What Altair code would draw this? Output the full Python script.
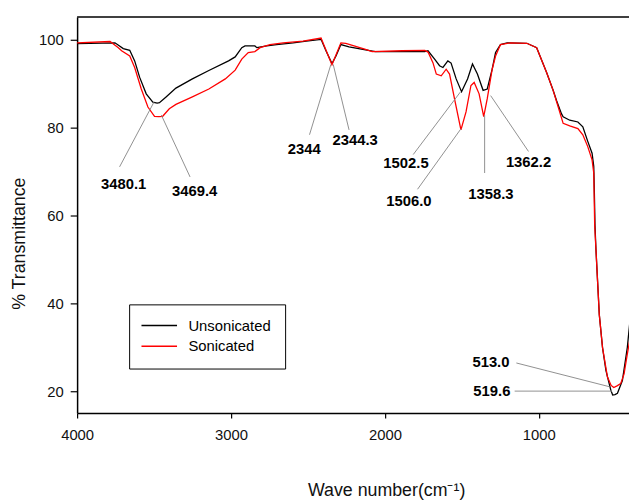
import altair as alt
import pandas as pd

# ---- data ----
series = ["Unsonicated", "Sonicated"]

wn_uns = [4000, 3754, 3700, 3658, 3626, 3594, 3551, 3508, 3480, 3465, 3422, 3358, 3251, 3144,
          3016, 2973, 2930, 2909, 2845, 2832, 2768, 2704, 2596, 2511, 2415, 2383, 2344, 2318,
          2286, 2233, 2126, 2062, 1848, 1741, 1720, 1677, 1645, 1623, 1591, 1570, 1537, 1502,
          1463, 1431, 1399, 1362, 1335, 1303, 1281, 1249, 1206, 1078, 1014, 950, 907, 885, 853,
          842, 799, 746, 714, 682, 654, 643, 639, 635, 629, 618, 607, 586, 564, 532, 520, 505,
          489, 457, 425, 410]
t_uns = [99.1, 99.3, 98.0, 97.6, 95.2, 91.5, 87.7, 85.8, 85.6, 85.7, 87.0, 89.0, 91.1, 93.0,
         95.2, 96.1, 98.2, 98.6, 98.6, 98.2, 98.6, 98.9, 99.3, 99.7, 100.1, 97.5, 94.6, 96.3,
         98.9, 98.4, 97.7, 97.3, 97.3, 97.3, 97.5, 95.6, 94.1, 93.7, 95.2, 94.7, 91.1, 88.2,
         91.1, 94.5, 92.2, 88.5, 88.8, 93.3, 97.1, 98.9, 99.3, 99.2, 98.2, 92.6, 88.5, 86.2, 83.2,
         82.5, 81.7, 81.3, 80.2, 76.9, 74.2, 71.2, 65.2, 57.8, 52.5, 45.0, 37.5, 30.0, 24.8, 20.3,
         19.2, 19.3, 19.6, 22.5, 30.0, 35.3]

wn_son = [4000, 3786, 3732, 3711, 3658, 3626, 3583, 3540, 3497, 3469, 3444, 3401, 3358, 3251,
          3144, 3037, 2973, 2930, 2888, 2845, 2811, 2747, 2661, 2532, 2415, 2344, 2286, 2254,
          2126, 2083, 1890, 1741, 1720, 1688, 1666, 1634, 1602, 1580, 1548, 1506, 1473, 1441,
          1420, 1388, 1358, 1335, 1303, 1281, 1249, 1184, 1078, 1014, 950, 907, 874, 842, 799,
          746, 714, 682, 654, 643, 637, 629, 618, 607, 586, 554, 530, 513, 492, 468, 446, 425, 410]
t_son = [99.3, 99.6, 98.2, 97.5, 96.3, 93.7, 88.8, 84.7, 82.6, 82.5, 82.6, 84.3, 85.3, 87.0,
         88.8, 91.1, 93.1, 95.6, 97.1, 97.3, 98.2, 98.9, 99.3, 99.7, 100.4, 94.3, 99.3, 99.2,
         97.8, 97.3, 97.5, 97.6, 97.2, 94.8, 92.2, 91.8, 93.3, 92.2, 86.6, 79.5, 83.6, 89.6,
         90.3, 87.7, 82.5, 86.6, 93.3, 96.3, 98.9, 99.3, 99.2, 98.2, 92.6, 88.5, 84.7, 81.0, 80.4,
         79.8, 78.4, 75.7, 72.7, 69.7, 57.8, 52.5, 45.0, 37.5, 30.0, 23.3, 21.4, 20.9, 21.3, 21.8,
         24.0, 28.5, 31.5]

peak_labels = ["3480.1", "3469.4", "2344", "2344.3", "1502.5", "1506.0", "1358.3", "1362.2",
               "513.0", "519.6"]
label_x = [3698, 3236, 2524, 2193, 1863, 1844, 1311, 1067, 1311, 1305]
label_y = [67.2, 65.6, 75.1, 77.3, 71.9, 63.4, 64.9, 72.1, 26.7, 20.2]
lead_x1 = [3724, 3266, 2490, 2233, 1816, 1788, 1352, 1067, 1146, 1157]
lead_y1 = [71.1, 68.8, 78.4, 79.5, 73.9, 66.0, 69.7, 74.6, 26.5, 20.1]
lead_x2 = [3501, 3453, 2351, 2336, 1510, 1505, 1352, 1313, 541, 525]
lead_y2 = [85.8, 82.9, 94.4, 94.4, 88.1, 79.8, 82.9, 87.3, 21.1, 20.1]

x_ticks = [4000, 3000, 2000, 1000]
y_ticks = [20, 40, 60, 80, 100]

# ---- tables ----
df = pd.concat([
    pd.DataFrame({"wn": wn_uns, "t": t_uns, "sample": series[0]}),
    pd.DataFrame({"wn": wn_son, "t": t_son, "sample": series[1]}),
], ignore_index=True)
lab_df = pd.DataFrame({"label": peak_labels, "wn": label_x, "t": label_y})
lead_df = pd.DataFrame({"wn": lead_x1, "t": lead_y1, "wn_end": lead_x2, "t_end": lead_y2})

FONT = "Liberation Sans"
W, H = 559, 401
xscale = alt.Scale(domain=[4000, 414], nice=False, zero=False)
yscale = alt.Scale(domain=[15.13, 105.16], nice=False, zero=False)

xaxis = alt.Axis(values=x_ticks, format="d", title="Wave number(cm⁻¹)", titleFontSize=18,
                 titleFontWeight="normal", titleX=313, titleY=84, titleBaseline="alphabetic",
                 titleAlign="center", tickSize=5, labelPadding=10, labelFontSize=15,
                 labelFlush=False)
yaxis = alt.Axis(values=y_ticks, format="d", title="% Transmittance", titleFontSize=18,
                 titleFontWeight="normal", titleX=-58, titleY=229, titleAngle=270,
                 titleBaseline="middle", titleAlign="center", tickSize=7, labelPadding=7,
                 labelFontSize=15)

X = alt.X("wn:Q", scale=xscale, axis=xaxis)
Y = alt.Y("t:Q", scale=yscale, axis=yaxis)

lines = alt.Chart(df).mark_line(clip=True, strokeWidth=1.3).encode(
    x=X, y=Y,
    color=alt.Color("sample:N",
                    scale=alt.Scale(domain=series, range=["black", "red"]),
                    legend=alt.Legend(orient="none", legendX=52.7, legendY=291, title=None,
                                      strokeColor="black", fillColor="white", padding=14,
                                      symbolOffset=9,
                                      symbolType="M-3,0H3", symbolSize=144,
                                      symbolStrokeWidth=1.5, labelFontSize=15, labelFont=FONT,
                                      labelOffset=22, rowPadding=5, labelColor="black")),
    detail="sample:N",
)

leaders = alt.Chart(lead_df).mark_rule(color="#8f8f8f", strokeWidth=1).encode(
    x=X, y=Y, x2="wn_end:Q", y2="t_end:Q",
)

texts = alt.Chart(lab_df).mark_text(font=FONT, fontSize=15, fontWeight="bold", color="black",
                                    align="center", baseline="middle").encode(
    x=X, y=Y, text="label:N",
)

top_border = alt.Chart(pd.DataFrame({"a": [0]})).mark_rule(color="black", strokeWidth=1.5).encode(
    x=alt.value(0), x2=alt.value(W), y=alt.value(0)
)

chart = alt.layer(lines, leaders, texts, top_border).properties(
    width=W, height=H,
    autosize=alt.AutoSizeParams(type="none"),
    padding={"left": 70, "top": 6, "right": 0, "bottom": 88},
).configure_view(stroke=None).configure_axis(
    grid=False, domainColor="black", domainWidth=1.5, tickColor="black", tickWidth=1.2,
    labelColor="#111111", titleColor="#111111", labelFont=FONT, titleFont=FONT,
)

chart.save("out.html", embed_options={"renderer": "svg", "actions": False})
